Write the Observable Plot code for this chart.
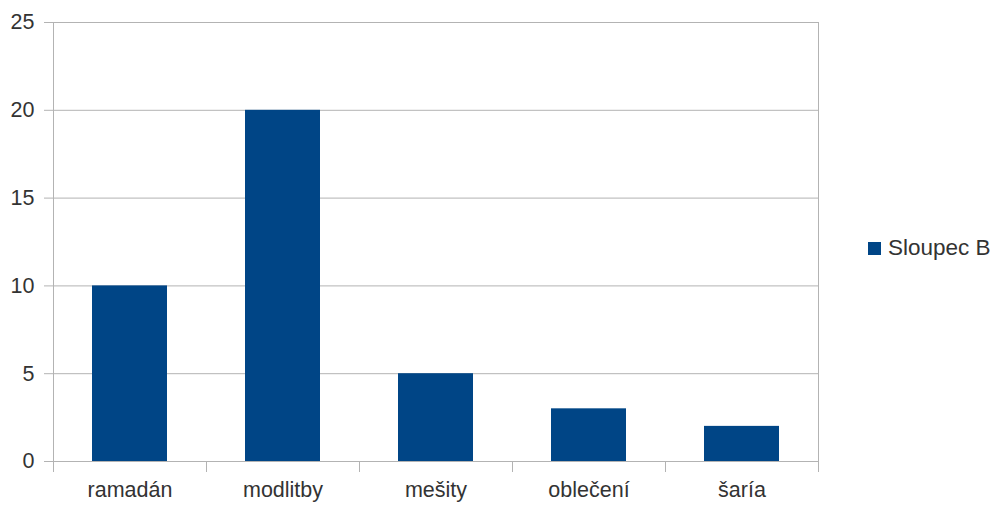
<!DOCTYPE html>
<html><head><meta charset="utf-8">
<script src="https://cdn.jsdelivr.net/npm/d3@7"></script>
<script src="https://cdn.jsdelivr.net/npm/@observablehq/plot@0.6"></script>
<style>
body{margin:0;background:#fff;font-family:"Liberation Sans",Arial,sans-serif}
#wrap{position:relative;width:997px;height:506px}
#legend{position:absolute;left:868px;top:235px;display:flex;align-items:center;font-size:22.5px;color:#333;white-space:nowrap}
#legend .sw{width:13px;height:13px;background:#004586;margin-right:7px}
</style></head><body><div id="wrap"></div>
<script>
const categories = ["ramadán","modlitby","mešity","oblečení","šaría"];
const values = [10, 20, 5, 3, 2];
const seriesName = "Sloupec B";
const yTicks = [0, 5, 10, 15, 20, 25];
const barColor = "#004586";
const data = categories.map((c, i) => ({category: c, value: values[i]}));
const grid = "#b3b3b3";
const chart = Plot.plot({
  width: 997, height: 506,
  marginLeft: 53, marginRight: 179, marginTop: 22, marginBottom: 45,
  style: {fontFamily: '"Liberation Sans", Arial, sans-serif', fontSize: "21.5px", color: "#333", background: "#fff"},
  x: {domain: categories, padding: 0, label: null, axis: null},
  y: {domain: [0, 25], label: null, axis: null},
  marks: [
    Plot.gridY(yTicks, {stroke: grid, strokeOpacity: 1}),
    Plot.frame({stroke: grid}),
    Plot.barY(data, {x: "category", y: "value", fill: barColor, insetLeft: 39, insetRight: 39}),
    Plot.axisY(yTicks, {tickSize: 9, stroke: grid, strokeOpacity: 1, tickFormat: () => ""}),
    Plot.axisY(yTicks, {tickSize: 0, tickPadding: 19, fill: "#333", tickFormat: d => String(d)}),
    Plot.axisX(categories, {tickSize: 11, dx: 76.5, stroke: grid, strokeOpacity: 1, tickFormat: () => ""}),
    Plot.axisX([categories[0]], {tickSize: 11, dx: -76.5, stroke: grid, strokeOpacity: 1, tickFormat: () => ""}),
    Plot.axisX(categories, {tickSize: 0, tickPadding: 20, fill: "#333"})
  ]
});
const wrap = document.getElementById("wrap");
wrap.appendChild(chart);
const lg = document.createElement("div");
lg.id = "legend";
lg.innerHTML = `<div class="sw"></div><span>${seriesName}</span>`;
wrap.appendChild(lg);
</script></body></html>
